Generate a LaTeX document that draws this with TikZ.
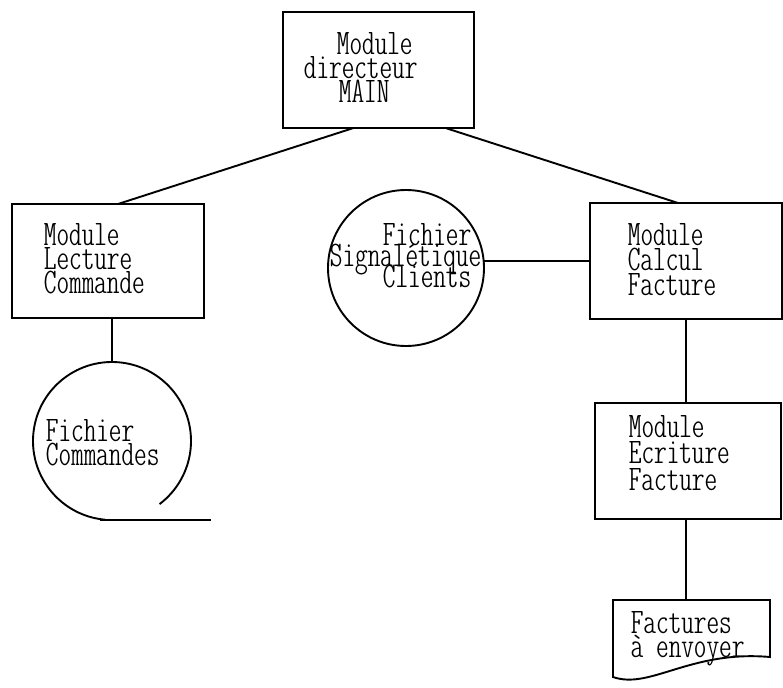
\documentclass[tikz,border=0pt]{standalone}
\usetikzlibrary{calc}
\newcommand\twfont{\fontfamily{lmtt}\fontseries{lc}\fontshape{n}\fontsize{36}{24}\selectfont\lineskiplimit=-100pt\relax}
\begin{document}
\begin{tikzpicture}[x=1pt,y=-1pt, line width=1.9pt,
  box/.style={draw, rectangle, inner sep=0pt, outer sep=0pt},
  disc/.style={circle, inner sep=0pt, outer sep=0pt},
  txt/.style={font=\twfont, align=left, inner sep=0pt, anchor=base west}]
\useasboundingbox (0,0) rectangle (783,687);
\fill[white] (0,0) rectangle (783,687);

% boxes
\node[box, minimum width=191pt, minimum height=116pt] (main) at (378.5,70) {};
\node[box, minimum width=192pt, minimum height=114pt] (lect) at (108,261) {};
\node[box, minimum width=192pt, minimum height=116pt] (calc) at (686,261) {};
\node[box, minimum width=186pt, minimum height=116pt] (ecri) at (688,461) {};
\node[disc, draw, minimum size=156pt] (sig) at (406,268) {};
\node[disc, minimum size=158pt] (cmd) at (112,441) {};
\node[inner sep=0pt, outer sep=0pt, minimum width=157pt, minimum height=80pt] (fact) at (691.5,640) {};

% tape symbol
\draw ($(cmd.center)+(95:79)$) arc[start angle=95, end angle=413, radius=79];
\draw ([xshift=-12pt]cmd.south) -- ++(111,0);
% document symbol
\draw (613,600) -- (770,600) -- (770,657) .. controls (690,650) and (650,690) .. (613,677) -- cycle;

% connectors
\draw ([xshift=-25pt]main.south) -- ([xshift=10pt]lect.north);
\draw ([xshift=67pt]main.south) -- ([xshift=-8pt]calc.north);
\draw (lect.south -| cmd.north) -- (cmd.north);
\draw (calc.west) -- (calc.west -| sig.east);
\draw (calc.south) -- (calc.south |- ecri.north);
\draw (calc.south |- ecri.south) -- (calc.south |- fact.north);

% texts (base anchor = baseline of the last line)
\node[txt] (tmain) at (303,103) {\hspace*{33pt}Module\\directeur\\\hspace*{35pt}MAIN};
\node[txt] (tlect) at (43,293) {Module\\Lecture\\Commande};
\node[txt] (tcmd) at (45,465) {Fichier\\Commandes};
\node[txt, font=\twfont\fontsize{36}{21}\selectfont] (tsig) at (329,287) {\hspace*{53pt}Fichier\\Signalétique\\\hspace*{53pt}Clients};
\node[txt, font=\twfont\fontsize{36}{25}\selectfont] (tcalc) at (627,295) {Module\\Calcul\\Facture};
\node[txt, font=\twfont\fontsize{36}{26.5}\selectfont] (tecri) at (628,490) {Module\\Ecriture\\Facture};
\node[txt] (tfact) at (630,657) {Factures\\à envoyer};
\end{tikzpicture}
\end{document}
